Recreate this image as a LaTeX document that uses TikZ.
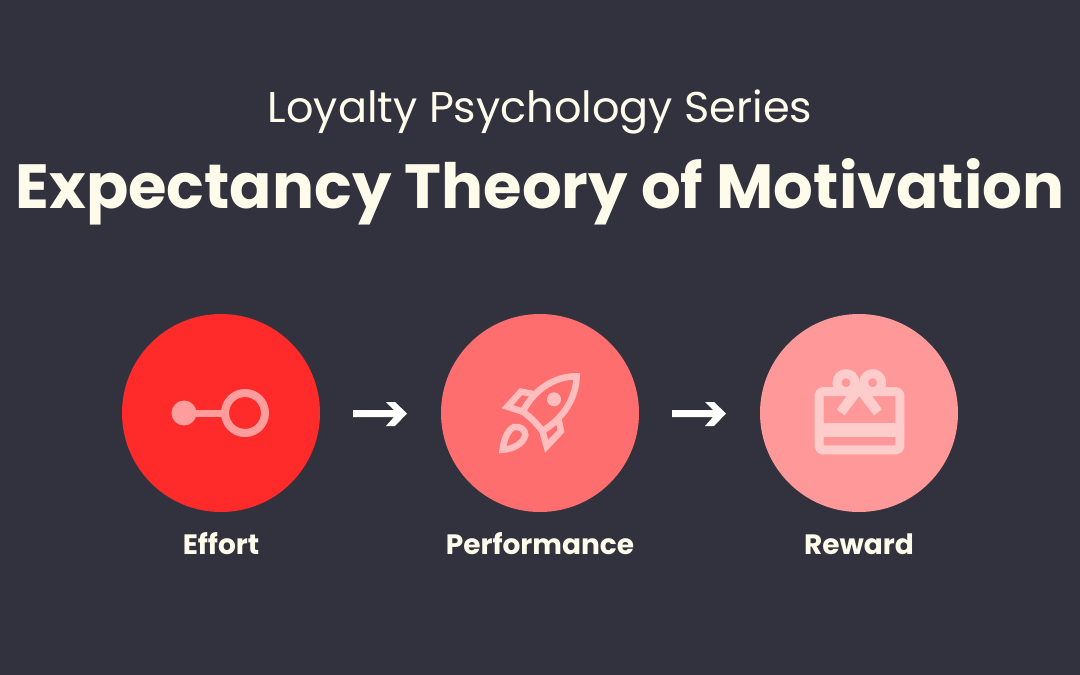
\documentclass[tikz,border=0pt]{standalone}
\usepackage{fontspec}
\setmainfont{Poppins}
\definecolor{bgc}{HTML}{32323E}
\definecolor{txt}{HTML}{FFFBEB}
\definecolor{ca}{HTML}{FF2A2A}
\definecolor{cb}{HTML}{FF6E6E}
\definecolor{cc}{HTML}{FF9999}
\definecolor{ia}{HTML}{FF9C9C}
\definecolor{ib}{HTML}{FFBDBD}
\definecolor{ic}{HTML}{FFCCCC}
\tikzset{
 stage/.style={circle,minimum size=198pt,inner sep=0pt},
 lab/.style={text=txt,font=\fontsize{28}{32}\selectfont\bfseries,anchor=base},
 rk/.style={draw=ib,line width=6.5pt,line join=miter},
 gift/.style={draw=ic,line join=round}
}
\begin{document}
\begin{tikzpicture}[x=1pt,y=-1pt]
\useasboundingbox[fill=bgc] (0,0) rectangle (1080,675);
\node[text=txt,anchor=base,font=\fontsize{43}{50}\selectfont] (sub) at (540,122) {Loyalty Psychology Series};
\node[text=txt,anchor=base,font=\fontsize{62.4}{72}\selectfont\bfseries] (title) at (540,208) {Expectancy Theory of Motivation};
\node[stage,fill=ca] (effort) at (221,413) {};
\node[stage,fill=cb] (perf) at (540,413) {};
\node[stage,fill=cc] (reward) at (859,413) {};
\node[lab] (l1) at (221,554) {Effort};
\node[lab] (l2) at (540,554) {Performance};
\node[lab] (l3) at (859,554) {Reward};
% arrows
\foreach \d in {0,319}{
\begin{scope}[xshift=\d pt]
\fill[white] (353,410) -- (394,410) -- (386,402) -- (395,402) -- (407,413.5) -- (395,426) -- (386,426) -- (394,417) -- (353,417) -- cycle;
\end{scope}}
% effort icon
\fill[ia] (184,413) circle (12.5);
\draw[ia,line width=7pt] (184,413) -- (225,413);
\draw[ia,line width=8pt] (245,413) circle (20);
% rocket
\begin{scope}[shift={(480,355)},x=0.3333pt,y=-0.3333pt]
\draw[rk] (290,64) .. controls (225,64) and (165,100) .. (128,170) .. controls (150,185) and (170,205) .. (187,228) .. controls (250,190) and (288,130) .. (290,64) -- cycle;
\fill[ib] (222,133) circle (21);
\draw[rk] (128,170) -- (82,155) -- (123,110) -- (165,118);
\draw[rk] (187,228) -- (200,274) -- (243,228) -- (235,192);
\draw[rk] (68,284) .. controls (72,250) and (85,222) .. (103,216) .. controls (120,213) and (136,224) .. (136,240) .. controls (128,268) and (100,282) .. (68,284) -- cycle;
\end{scope}
% gift
\begin{scope}[shift={(800,355)},x=0.3333pt,y=-0.3333pt]
\draw[gift,line width=9pt,rounded corners=4pt] (57,110) -- (300,110) -- (300,285) -- (57,285) -- cycle;
\fill[ic] (57,205) rectangle (300,245);
\draw[gift,line width=10pt] (122,172) -- (178,98) -- (234,172);
\draw[gift,line width=9pt] (138,83) circle (27);
\draw[gift,line width=9pt] (218,83) circle (27);
\end{scope}
\end{tikzpicture}
\end{document}
